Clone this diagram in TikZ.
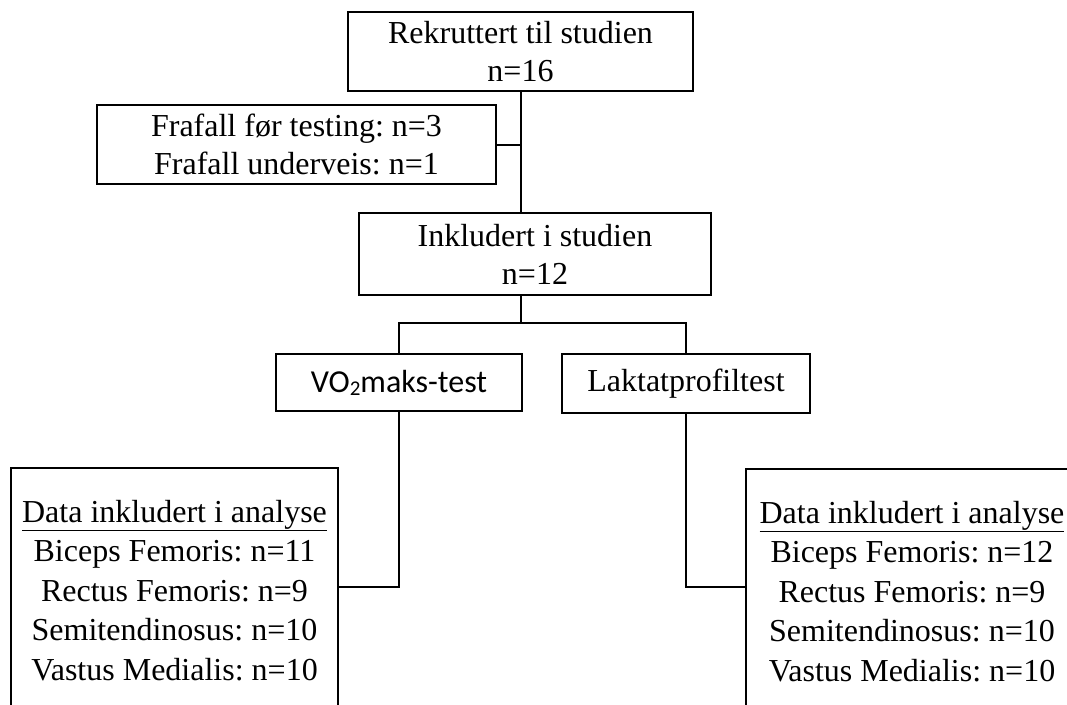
\documentclass[tikz,border=0pt]{standalone}
\usepackage{fontspec}
\setmainfont{Liberation Serif}
\newfontfamily\carlito{Carlito}
\frenchspacing

\begin{document}
\begin{tikzpicture}[
    x=1pt,
    y=-1pt,
    boks/.style={
        draw,
        line width=2pt,
        align=center,
        inner sep=0pt,
        font=\fontsize{32}{38}\selectfont
    },
    databoks/.style={
        boks,
        anchor=north,
        inner ysep=32pt,
        font=\fontsize{32}{39.5}\selectfont
    },
    linje/.style={
        line width=2pt
    }
]

    \useasboundingbox (0,0) rectangle (1067,704);
    \clip (0,0) rectangle (1067,704);

    % Rekruttert
    \node[boks, minimum width=345pt, minimum height=79pt] (rekr)
        at (520.5,51.5) {Rekruttert til studien\\n=16};

    % Frafall
    \node[boks, minimum width=399pt, minimum height=79pt] (frafall)
        at (296.5,144.5) {Frafall før testing: n=3\\Frafall underveis: n=1};

    % Inkludert
    \node[boks, minimum width=352pt, minimum height=82pt] (inkl)
        at (535,254) {Inkludert i studien\\n=12};

    % Tester
    \node[boks, minimum width=246pt, minimum height=57pt,
        font=\carlito\fontsize{32}{38}\selectfont] (vo2)
        at (399,382.5)
        {VO\raisebox{-3pt}{\fontsize{21}{21}\selectfont 2}maks-test};

    \node[boks, minimum width=248pt, minimum height=59pt] (lakt)
        at (686,383.5) {Laktatprofiltest};

    % Data VO2
    \node[databoks, minimum width=327pt] (dataV) at (174.5,467)
        {\underline{Data inkludert i analyse}\\Biceps Femoris: n=11\\
         Rectus Femoris: n=9\\Semitendinosus: n=10\\Vastus Medialis: n=10};

    % Data laktat
    \node[databoks, minimum width=332pt] (dataL) at (912,468)
        {\underline{Data inkludert i analyse}\\Biceps Femoris: n=12\\
         Rectus Femoris: n=9\\Semitendinosus: n=10\\Vastus Medialis: n=10};

    % Linjer
    \draw[linje] (rekr.south) -- (rekr.south |- inkl.north);
    \draw[linje] (frafall.east) -- (frafall.east -| rekr.south);

    \coordinate (delt) at (rekr.south |- 0,323);
    \draw[linje] (inkl.south -| rekr.south) -- (delt);
    \draw[linje] (vo2.north) |- (delt) -| (lakt.north);

    \coordinate (knekk) at (0,587);
    \draw[linje] (vo2.south) |- (dataV.east |- knekk);
    \draw[linje] (lakt.south) |- (dataL.west |- knekk);

\end{tikzpicture}
\end{document}
